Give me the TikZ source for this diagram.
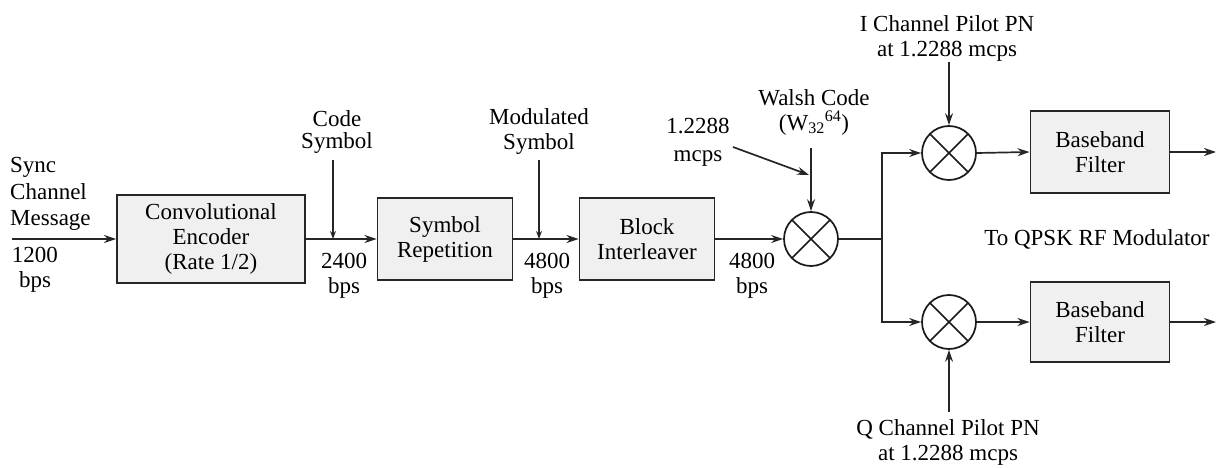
\documentclass[tikz,border=0pt]{standalone}
\usepackage{fontspec}
\setmainfont{Liberation Serif}
\usetikzlibrary{arrows.meta}
\begin{document}
\begin{tikzpicture}[x=1pt,y=-1pt,
  every node/.style={font=\fontsize{23}{25}\selectfont, inner sep=0pt},
  blk/.style={draw=black!85, line width=1.9pt, fill=gray!12, rectangle, align=center},
  mix/.style={draw=black!90, line width=1.7pt, circle, minimum size=54pt,
    path picture={\draw[line width=1.7pt] (path picture bounding box.north west) -- (path picture bounding box.south east)
      (path picture bounding box.north east) -- (path picture bounding box.south west);}},
  lbl/.style={align=center},
  wire/.style={line width=1.7pt, draw=black!85},
  arr/.style={wire, -{Stealth[length=12pt,width=8pt]}},
  sarr/.style={wire, -{Stealth[length=8pt,width=6pt]}}
]
\useasboundingbox (0,0) rectangle (1218,468);

% blocks
\node[blk, minimum width=188pt, minimum height=88pt] (enc) at (211,239) {Convolutional\\Encoder\\(Rate 1/2)};
\node[blk, minimum width=135pt, minimum height=82pt] (rep) at (445,239) {Symbol\\Repetition};
\node[blk, minimum width=135pt, minimum height=82pt] (bint) at (647,239) {Block\\Interleaver};
\node[mix] (m1) at (811,239) {};
\node[mix] (m2) at (949,153) {};
\node[mix] (m3) at (949,322) {};
\node[blk, minimum width=139pt, minimum height=82pt] (bf1) at (1100,152) {Baseband\\Filter};
\node[blk, minimum width=139pt, minimum height=80pt] (bf2) at (1100,322) {Baseband\\Filter};

% labels
\node[lbl, align=left, anchor=west, font=\fontsize{23}{26.5}\selectfont] (lin) at (10,194) {Sync\\Channel\\Message};
\node[lbl] (lr0) at (35,270) {1200\\bps};
\node[lbl, font=\fontsize{23}{22}\selectfont] (lcs) at (337,132) {Code\\Symbol};
\node[lbl] (lr1) at (344,276) {2400\\bps};
\node[lbl] (lms) at (539,132) {Modulated\\Symbol};
\node[lbl] (lr2) at (547,276) {4800\\bps};
\node[lbl] (lr3) at (752,276) {4800\\bps};
\node[lbl, font=\fontsize{23}{28}\selectfont] (lmc) at (698,142) {1.2288\\mcps};
\node[lbl] (lw) at (814,112) {Walsh Code\\(W\textsubscript{32}\textsuperscript{64})};
\node[lbl] (li) at (947,38) {I Channel Pilot PN\\at 1.2288 mcps};
\node[lbl] (lq) at (948,442) {Q Channel Pilot PN\\at 1.2288 mcps};
\node[lbl] (lqpsk) at (1097,239) {To QPSK RF Modulator};

% coordinates
\coordinate (in) at (12,239);
\coordinate (cs) at (333,160);
\coordinate (ms) at (539,160);
\coordinate (wt) at (811,148);
\coordinate (mt) at (733,147);
\coordinate (wj) at (809,175);
\coordinate (jn) at (882,239);
\coordinate (it) at (949,62);
\coordinate (qt) at (949,412);
\coordinate (o1) at (1216,152);
\coordinate (o2) at (1216,322);

% connectors
\draw[arr] (in) -- (enc.west);
\draw[arr] (enc.east) -- (rep.west);
\draw[sarr] (cs) -- (cs |- enc.east);
\draw[arr] (rep.east) -- (bint.west);
\draw[sarr] (ms) -- (ms |- rep.east);
\draw[arr] (bint.east) -- (m1.west);
\draw[arr] (wt) -- (m1.north);
\draw[arr] (mt) -- (wj);
\draw[wire] (m1.east) -- (jn);
\draw[arr] (jn) |- (m2.west);
\draw[arr] (jn) |- (m3.west);
\draw[arr] (it) -- (m2.north);
\draw[arr] (qt) -- (m3.south);
\draw[arr] (m2.east) -- (bf1.west);
\draw[arr] (m3.east) -- (bf2.west);
\draw[arr] (bf1.east) -- (o1);
\draw[arr] (bf2.east) -- (o2);
\end{tikzpicture}
\end{document}
